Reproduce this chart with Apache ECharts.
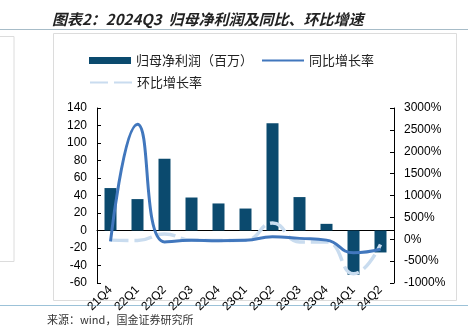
<!DOCTYPE html>
<html>
<head>
<meta charset="utf-8">
<script src="https://cdn.jsdelivr.net/npm/echarts@6/dist/echarts.min.js"></script>
<style>
html,body{margin:0;padding:0;background:#fff;}
#chart{width:468px;height:331px;}
</style>
</head>
<body>
<div id="chart"></div>
<script>
const categories = ['21Q4','22Q1','22Q2','22Q3','22Q4','23Q1','23Q2','23Q3','23Q4','24Q1','24Q2'];
const netProfit = [48.5, 35.9, 82, 37.7, 30.9, 25.1, 122.7, 38.2, 7.6, -50.6, -25.1];
const yoyGrowth = [-50, 2630, -60, -25, -35, -25, 55, 20, -20, -310, -230];
const qoqGrowth = [-20, -30, 120, -20, -30, -25, 370, -60, -60, -790, -120];
const leftTicks = {min: -60, max: 140, interval: 20};
const rightTicks = {min: -1000, max: 3000, interval: 500};

const chart = echarts.init(document.getElementById('chart'));
const cjk = "'Noto Sans CJK SC', sans-serif";
const latin = "'Liberation Sans', Arial, sans-serif";

chart.setOption({
  animation: false,
  backgroundColor: '#fff',
  title: {
    text: '图表2：2024Q3  归母净利润及同比、环比增速',
    left: 47, top: 7,
    textStyle: {fontFamily: cjk, fontSize: 15, fontWeight: 'bold', fontStyle: 'italic', color: '#222'}
  },
  graphic: [
    {type: 'line', shape: {x1: 0, y1: 29.5, x2: 468, y2: 29.5}, style: {stroke: '#a7bcc8', lineWidth: 1.2}},
    {type: 'rect', shape: {x: -2, y: 36.5, width: 16, height: 225}, style: {fill: 'none', stroke: '#dcdcdc', lineWidth: 1}},
    {type: 'rect', shape: {x: 53.5, y: 33.5, width: 403, height: 267}, style: {fill: 'none', stroke: '#dcdcdc', lineWidth: 1}},
    {type: 'line', shape: {x1: 0, y1: 305.5, x2: 468, y2: 305.5}, style: {stroke: '#9cc2d8', lineWidth: 1.2}},
    {type: 'text', left: 47, top: 314, style: {text: '来源：wind，国金证券研究所', font: "11px 'Noto Sans CJK SC'", fill: '#333'}}
  ],
  legend: [
    {
      left: 84, top: 49, itemWidth: 42, itemHeight: 7, itemGap: 8,
      textStyle: {fontFamily: cjk, fontSize: 13, color: '#222'},
      data: [{name: '归母净利润（百万）', icon: 'rect'}, {name: '同比增长率', itemStyle: {opacity: 0}}]
    },
    {
      left: 84, top: 71, itemWidth: 42, itemHeight: 7,
      textStyle: {fontFamily: cjk, fontSize: 13, color: '#222'},
      data: [{name: '环比增长率', itemStyle: {opacity: 0}}]
    }
  ],
  grid: {left: 97, right: 74, top: 108, bottom: 48, containLabel: false},
  xAxis: {
    type: 'category',
    data: categories,
    boundaryGap: true,
    axisLine: {onZero: true, onZeroAxisIndex: 0, lineStyle: {color: '#000', width: 1}},
    axisTick: {inside: true, length: 4, lineStyle: {color: '#000'}},
    axisLabel: {rotate: 45, margin: 5, fontFamily: latin, fontSize: 12, color: '#000', interval: 0}
  },
  yAxis: [
    {
      type: 'value', position: 'left',
      min: leftTicks.min, max: leftTicks.max, interval: leftTicks.interval,
      axisLine: {show: true, lineStyle: {color: '#000'}},
      axisTick: {show: true, inside: true, length: 4, lineStyle: {color: '#000'}},
      axisLabel: {margin: 10, fontFamily: latin, fontSize: 12, color: '#000'},
      splitLine: {show: false}
    },
    {
      type: 'value', position: 'right',
      min: rightTicks.min, max: rightTicks.max, interval: rightTicks.interval,
      axisLine: {show: true, lineStyle: {color: '#000'}},
      axisTick: {show: true, inside: true, length: 4, lineStyle: {color: '#000'}},
      axisLabel: {margin: 10, fontFamily: latin, fontSize: 12, color: '#000', formatter: function (v) { return v + '%'; }},
      splitLine: {show: false}
    }
  ],
  series: [
    {
      name: '归母净利润（百万）', type: 'bar', yAxisIndex: 0,
      data: netProfit, barWidth: 12,
      itemStyle: {color: '#0b4a6e'}
    },
    {
      name: '环比增长率', type: 'line', yAxisIndex: 1,
      data: qoqGrowth, smooth: 0.5, symbol: 'none', showSymbol: false,
      lineStyle: {color: '#c9dcef', width: 3.5, type: [18, 6]},
      itemStyle: {color: '#c9dcef'}
    },
    {
      name: '同比增长率', type: 'line', yAxisIndex: 1,
      data: yoyGrowth, smooth: 0.5, symbol: 'none', showSymbol: false,
      lineStyle: {color: '#4177bd', width: 3},
      itemStyle: {color: '#4177bd'}
    }
  ]
});
</script>
</body>
</html>
